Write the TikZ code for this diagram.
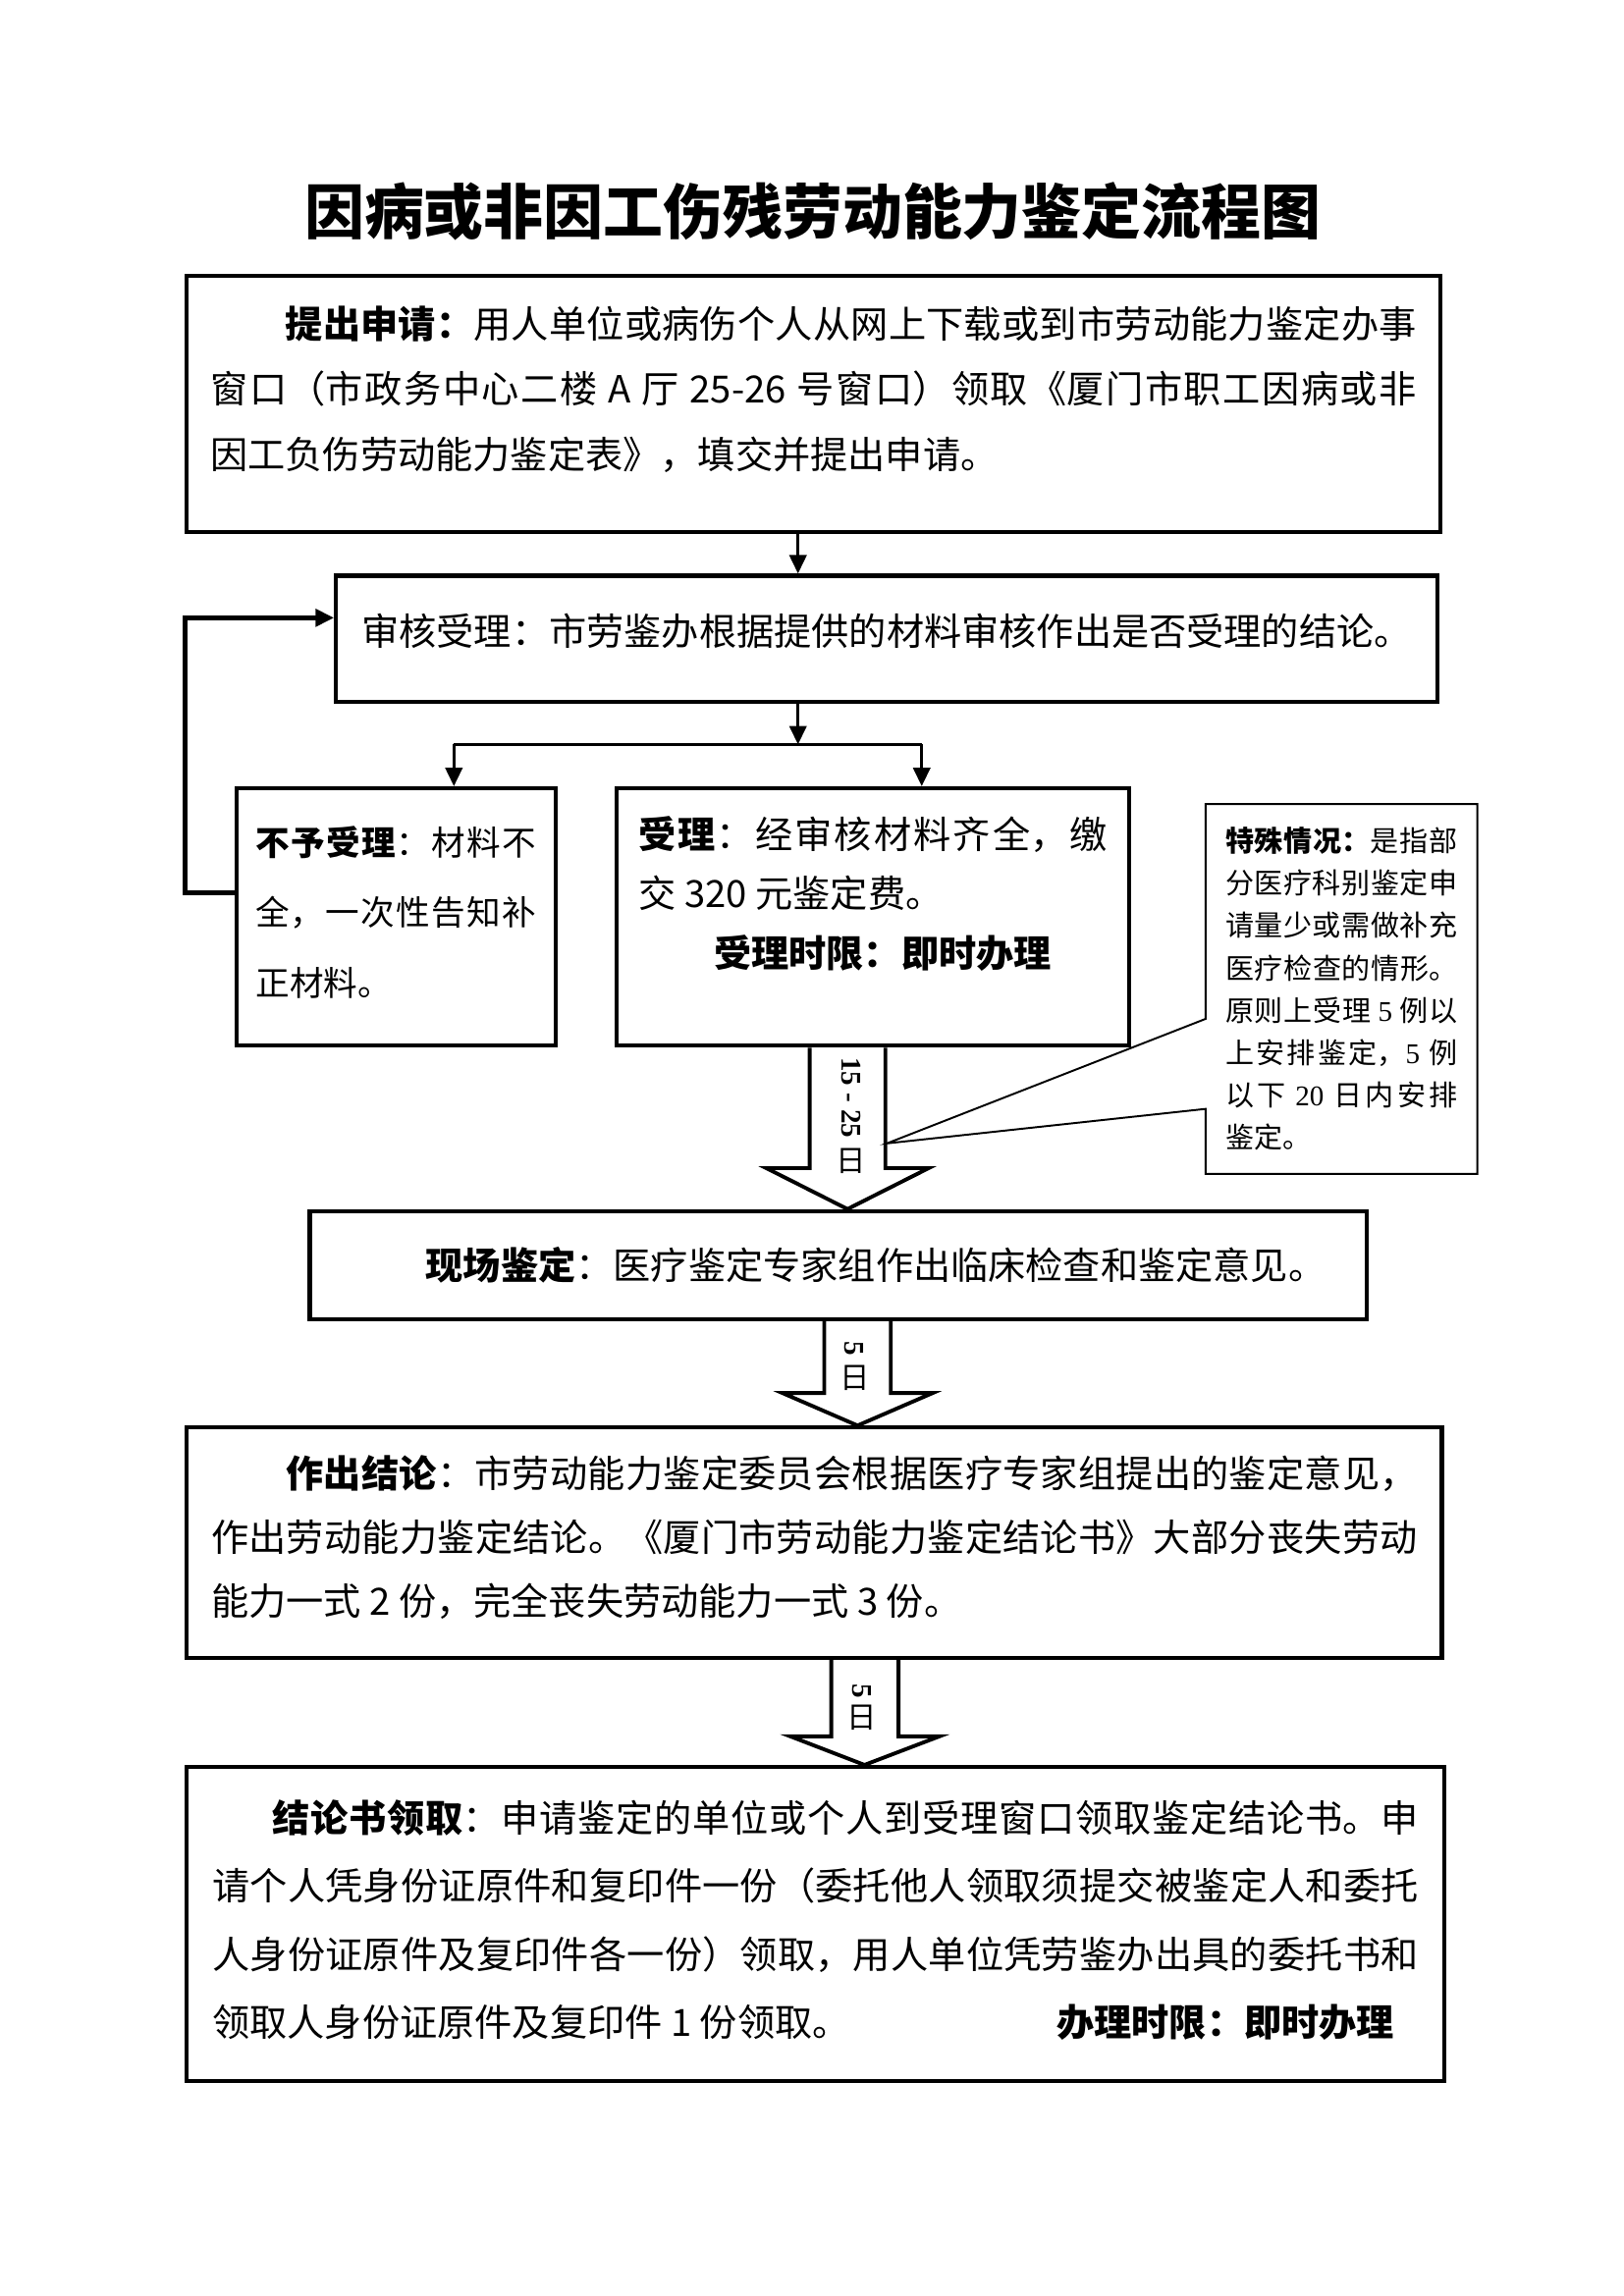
\documentclass[tikz,border=0pt]{standalone}
\usepackage{fontspec}
\setmainfont{Noto Sans CJK SC}
\newfontfamily\serifnum{Liberation Serif}
\usetikzlibrary{arrows.meta,calc,backgrounds}
\XeTeXlinebreaklocale "zh"
\XeTeXlinebreakskip=0pt plus 1pt
% justified block of given width, lifted inside its box
\newcommand{\liftpar}[3]{\raisebox{#1}[\height][\depth]{\parbox{#2}{#3}}}

\begin{document}
\begin{tikzpicture}[>={Triangle[length=2.4mm,width=2.2mm]},
  box/.style={draw, line width=1.5pt, anchor=north west, inner sep=0pt,
    font=\fontsize{13.8pt}{24pt}\selectfont},
  conn/.style={->, line width=1.1pt},
  backline/.style={->, line width=1.8pt},
  dayarrow/.style={draw, fill=white, line width=1.4pt},
  daynum/.style={inner sep=0pt, rotate=-90, font=\serifnum\bfseries\fontsize{10.5pt}{12pt}\selectfont},
  dayri/.style={inner sep=0pt, font=\fontsize{11pt}{12pt}\selectfont}]
  \useasboundingbox (0,0) rectangle (21,-29.7);

  % title
  \node[font=\bfseries\fontsize{22pt}{26pt}\selectfont] (title) at (10.51,-2.74) {因病或非因工伤残劳动能力鉴定流程图};

  % steps
  \node[box, minimum width=16.21cm, minimum height=3.32cm] (apply) at (2.39,-3.54)
    {\liftpar{0.19cm}{15.6cm}{\hspace*{2em}\textbf{提出申请：}用人单位或病伤个人从网上下载或到市劳动能力鉴定办事\linebreak
     窗口（市政务中心二楼 A 厅 25-26 号窗口）领取《厦门市职工因病或非\linebreak
     因工负伤劳动能力鉴定表》，填交并提出申请。}};
  \node[box, minimum width=14.24cm, minimum height=1.63cm] (review) at (4.32,-7.42)
    {\raisebox{0.1cm}[\height][\depth]{审核受理：市劳鉴办根据提供的材料审核作出是否受理的结论。}};
  \node[box, minimum width=4.13cm, minimum height=3.33cm,
    font=\fontsize{12.5pt}{25.8pt}\selectfont] (reject) at (3.03,-10.17)
    {\liftpar{0.06cm}{3.62cm}{\textbf{不予受理}：材料不\linebreak 全，一次性告知补\linebreak 正材料。}};
  \node[box, minimum width=6.63cm, minimum height=3.33cm,
    font=\fontsize{13.8pt}{22pt}\selectfont] (accept) at (7.95,-10.17)
    {\liftpar{0.30cm}{6.06cm}{\textbf{受理}：经审核材料齐全，缴\linebreak 交 320 元鉴定费。\par
     \hspace*{2em}\textbf{受理时限：即时办理}}};
  \node[box, minimum width=13.67cm, minimum height=1.40cm] (onsite) at (3.98,-15.64)
    {\hspace*{2em}\textbf{现场鉴定}：医疗鉴定专家组作出临床检查和鉴定意见。};
  \node[box, minimum width=16.23cm, minimum height=2.98cm,
    font=\fontsize{13.8pt}{23.4pt}\selectfont] (verdict) at (2.39,-18.44)
    {\liftpar{0.07cm}{15.6cm}{\hspace*{2em}\textbf{作出结论}：市劳动能力鉴定委员会根据医疗专家组提出的鉴定意见，\linebreak
     作出劳动能力鉴定结论。《厦门市劳动能力鉴定结论书》大部分丧失劳动\linebreak
     能力一式 2 份，完全丧失劳动能力一式 3 份。}};
  \node[box, minimum width=16.26cm, minimum height=4.06cm,
    font=\fontsize{13.8pt}{25pt}\selectfont] (collect) at (2.39,-22.83)
    {\liftpar{0.05cm}{15.6cm}{\hspace*{1.6em}\textbf{结论书领取}：申请鉴定的单位或个人到受理窗口领取鉴定结论书。申\linebreak
     请个人凭身份证原件和复印件一份（委托他人领取须提交被鉴定人和委托\linebreak
     人身份证原件及复印件各一份）领取，用人单位凭劳鉴办出具的委托书和\linebreak
     领取人身份证原件及复印件 1 份领取。\hspace{\stretch{1}}\textbf{办理时限：即时办理}\hspace*{0.65em}\mbox{}}};

  % callout note
  \node[anchor=north west, minimum width=3.5cm, minimum height=4.77cm, text width=3.0cm, align=justify,
    inner sep=0pt, font=\fontsize{10.5pt}{15.6pt}\selectfont] (special) at (15.59,-10.40)
    {\textbf{特殊情况：}是指部\linebreak
     分医疗科别鉴定申\linebreak
     请量少或需做补充\linebreak
     医疗检查的情形。\linebreak
     原则上受理 {\serifnum 5} 例以\linebreak
     上安排鉴定，{\serifnum 5} 例\linebreak
     以下 {\serifnum 20} 日内安排\linebreak
     鉴定。};
  \coordinate (tip) at (11.47,-14.79);
  \draw[line width=0.7pt] (special.north west) -- (special.north east) -- (special.south east)
    -- (special.south west) -- ([yshift=0.84cm]special.south west) -- (tip)
    -- ([yshift=-2.78cm]special.north west) -- cycle;

  % connectors
  \coordinate (sx) at (10.32,0);
  \coordinate (lx) at (5.87,0);
  \coordinate (rx) at (11.92,0);
  \coordinate (split) at (10.32,-9.63);
  \draw[conn] (sx |- apply.south) -- (sx |- review.north);
  \draw[conn] (sx |- review.south) -- (split);
  \draw[line width=1.1pt] (lx |- split) -- (rx |- split);
  \draw[conn] (lx |- split) -- (lx |- reject.north);
  \draw[conn] (rx |- split) -- (rx |- accept.north);
  \draw[backline] ([yshift=0.31cm]reject.west) -- ++(-0.64,0) |- ([yshift=0.27cm]review.west);

  % block arrows with day counts
  \begin{scope}[on background layer]
    \draw[dayarrow] let \p1=(accept.south), \p2=(onsite.north) in
      (10.47cm,\y1) -- (10.47cm,\y2+0.53cm) -- (9.91cm,\y2+0.53cm) -- (10.96cm,\y2)
      -- (12.01cm,\y2+0.53cm) -- (11.45cm,\y2+0.53cm) -- (11.45cm,\y1);
    \draw[dayarrow] let \p1=(onsite.south), \p2=(verdict.north) in
      (10.66cm,\y1) -- (10.66cm,\y2+0.42cm) -- (10.12cm,\y2+0.42cm) -- (11.09cm,\y2)
      -- (12.06cm,\y2+0.42cm) -- (11.52cm,\y2+0.42cm) -- (11.52cm,\y1);
    \draw[dayarrow] let \p1=(verdict.south), \p2=(collect.north) in
      (10.75cm,\y1) -- (10.75cm,\y2+0.37cm) -- (10.22cm,\y2+0.37cm) -- (11.18cm,\y2)
      -- (12.15cm,\y2+0.37cm) -- (11.62cm,\y2+0.37cm) -- (11.62cm,\y1);
  \end{scope}
  \node[daynum] (d1) at (11.01,-14.20) {15 - 25};
  \node[dayri] (d1r) at (11.01,-15.02) {日};
  \node[daynum] (d2) at (11.05,-17.44) {5};
  \node[dayri] (d2r) at (11.05,-17.82) {日};
  \node[daynum] (d3) at (11.15,-21.87) {5};
  \node[dayri] (d3r) at (11.15,-22.22) {日};
\end{tikzpicture}
\end{document}
